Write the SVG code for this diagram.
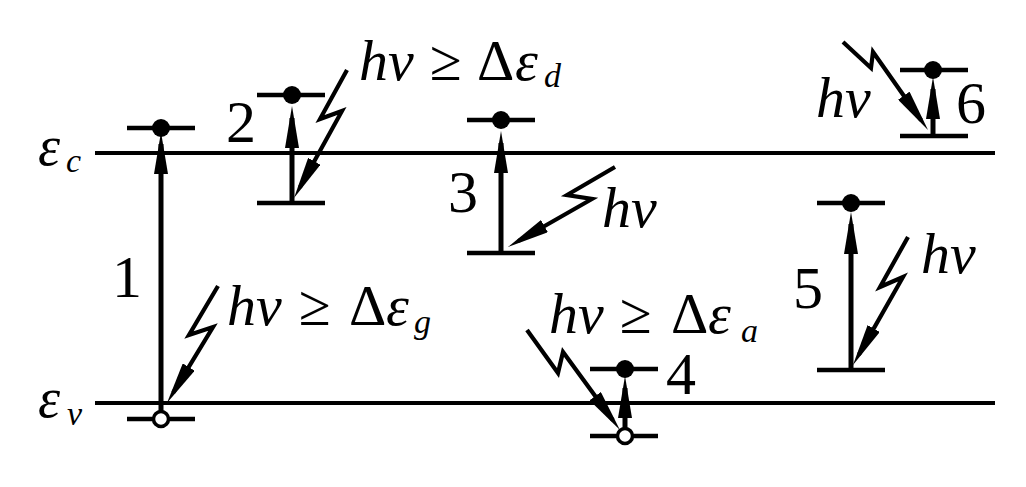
<svg xmlns="http://www.w3.org/2000/svg" width="1026" height="487" viewBox="0 0 1026 487">
<defs>
<marker id="ah" viewBox="0 0 42 14" refX="30" refY="7" markerWidth="42" markerHeight="14" markerUnits="userSpaceOnUse" orient="auto">
<path d="M0,0 L42,7 L0,14 z" fill="#000"/>
</marker>
</defs>
<rect width="1026" height="487" fill="#fff"/>
<g id="bands" stroke="#000" stroke-width="4" fill="none">
<line x1="95" y1="153" x2="995" y2="153"/>
<line x1="95" y1="403" x2="995" y2="403"/>
</g>
<g id="band-labels" font-family="Times New Roman, serif" font-style="italic" fill="#000">
<text x="38" y="165" font-size="56">ε</text>
<text x="66" y="172" font-size="34">c</text>
<text x="38" y="417" font-size="56">ε</text>
<text x="67" y="425" font-size="34">ν</text>
</g>
<g id="connectors" stroke="#000" fill="none">
<g stroke-width="5">
<line x1="161" y1="419" x2="161" y2="144" marker-end="url(#ah)"/>
<line x1="292" y1="203" x2="292" y2="118" marker-end="url(#ah)"/>
<line x1="501" y1="253" x2="501" y2="143" marker-end="url(#ah)"/>
<line x1="625" y1="436" x2="625" y2="388" marker-end="url(#ah)"/>
<line x1="851" y1="370" x2="851" y2="224" marker-end="url(#ah)"/>
<line x1="933" y1="136" x2="933" y2="89" marker-end="url(#ah)"/>
</g>
<g stroke-width="4.2">
<polyline points="218,286 189,335 213,327 173.2,392.7" marker-end="url(#ah)"/>
<polyline points="347,70 320,119 342,111 299.8,187.5" marker-end="url(#ah)"/>
<polyline points="615,167 567,195 592,199 518.4,241" marker-end="url(#ah)"/>
<polyline points="527,330 558,373 563,352 612.9,420.3" marker-end="url(#ah)"/>
<polyline points="908,237 880,287 903,277 858.9,354.6" marker-end="url(#ah)"/>
<polyline points="843,42 871,68 873,52 921.1,120.2" marker-end="url(#ah)"/>
</g>
</g>
<g id="t1" font-family="Times New Roman, serif" fill="#000">
<g stroke="#000" stroke-width="4.5"><line x1="127" y1="128" x2="195" y2="128"/><line x1="127" y1="419" x2="195" y2="419"/></g>
<circle cx="161" cy="128" r="9"/>
<circle cx="161" cy="419" r="7.5" fill="#fff" stroke="#000" stroke-width="3.5"/>
<text x="127" y="297" font-size="60" text-anchor="middle">1</text>
<text x="227" y="325" font-size="58"><tspan font-style="italic">hν</tspan><tspan x="299">≥</tspan><tspan x="349">Δ</tspan><tspan x="386" font-style="italic">ε</tspan><tspan x="414" y="333" font-size="34" font-style="italic">g</tspan></text>
</g>
<g id="t2" font-family="Times New Roman, serif" fill="#000">
<g stroke="#000" stroke-width="4.5"><line x1="257" y1="95" x2="325" y2="95"/><line x1="257" y1="203" x2="325" y2="203"/></g>
<circle cx="292" cy="95" r="9"/>
<text x="241" y="142" font-size="60" text-anchor="middle">2</text>
<text x="359" y="80" font-size="58"><tspan font-style="italic">hν</tspan><tspan x="430">≥</tspan><tspan x="477">Δ</tspan><tspan x="515" font-style="italic">ε</tspan><tspan x="544" y="87" font-size="34" font-style="italic">d</tspan></text>
</g>
<g id="t3" font-family="Times New Roman, serif" fill="#000">
<g stroke="#000" stroke-width="4.5"><line x1="467" y1="120" x2="535" y2="120"/><line x1="467" y1="253" x2="535" y2="253"/></g>
<circle cx="501" cy="120" r="9"/>
<text x="463" y="212" font-size="60" text-anchor="middle">3</text>
<text x="602" y="227" font-size="58" font-style="italic">hν</text>
</g>
<g id="t4" font-family="Times New Roman, serif" fill="#000">
<g stroke="#000" stroke-width="4.5"><line x1="590" y1="369" x2="658" y2="369"/><line x1="590" y1="436" x2="658" y2="436"/></g>
<circle cx="625" cy="369" r="9"/>
<circle cx="625" cy="436" r="7.5" fill="#fff" stroke="#000" stroke-width="3.5"/>
<text x="681" y="394" font-size="60" text-anchor="middle">4</text>
<text x="549" y="333" font-size="58"><tspan font-style="italic">hν</tspan><tspan x="620">≥</tspan><tspan x="671">Δ</tspan><tspan x="708" font-style="italic">ε</tspan><tspan x="741" y="342" font-size="34" font-style="italic">a</tspan></text>
</g>
<g id="t5" font-family="Times New Roman, serif" fill="#000">
<g stroke="#000" stroke-width="4.5"><line x1="817" y1="203" x2="885" y2="203"/><line x1="817" y1="370" x2="885" y2="370"/></g>
<circle cx="851" cy="203" r="9"/>
<text x="808" y="308" font-size="60" text-anchor="middle">5</text>
<text x="921" y="273" font-size="58" font-style="italic">hν</text>
</g>
<g id="t6" font-family="Times New Roman, serif" fill="#000">
<g stroke="#000" stroke-width="4.5"><line x1="900" y1="70" x2="968" y2="70"/><line x1="900" y1="136" x2="968" y2="136"/></g>
<circle cx="933" cy="70" r="9"/>
<text x="971" y="123" font-size="60" text-anchor="middle">6</text>
<text x="816" y="117" font-size="58" font-style="italic">hν</text>
</g>
</svg>
